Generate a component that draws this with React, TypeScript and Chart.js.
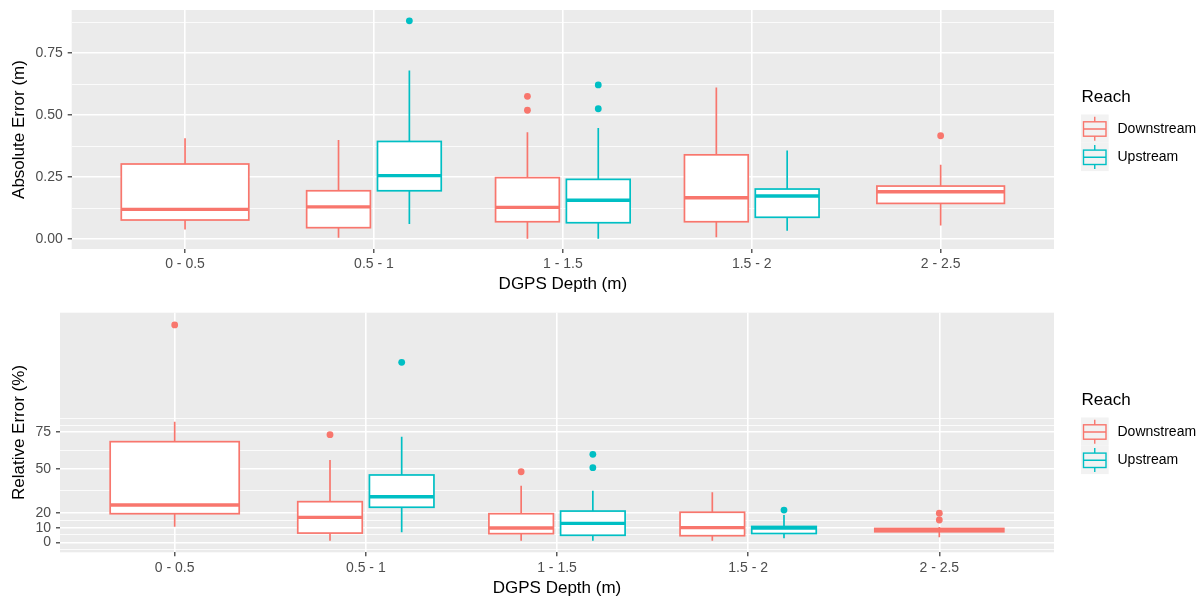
import React, { useEffect, useRef } from "react";
import { Chart, registerables } from "chart.js";

Chart.register(...registerables);

// ---------- data ----------
const CATEGORIES = ["0 - 0.5", "0.5 - 1", "1 - 1.5", "1.5 - 2", "2 - 2.5"];
const REACHES = ["Downstream", "Upstream"];
const REACH_COLORS = ["#F8766D", "#00BFC4"];

// box stats per category: [lower whisker, Q1, median, Q3, upper whisker]; null = no box
const ABS_DOWN = [
  [0.039, 0.077, 0.12, 0.303, 0.407],
  [0.005, 0.046, 0.13, 0.195, 0.4],
  [0.001, 0.07, 0.128, 0.248, 0.431],
  [0.007, 0.07, 0.167, 0.34, 0.612],
  [0.055, 0.144, 0.191, 0.214, 0.3],
];
const ABS_UP = [
  null,
  [0.061, 0.195, 0.256, 0.394, 0.68],
  [0.001, 0.066, 0.157, 0.241, 0.448],
  [0.034, 0.088, 0.174, 0.202, 0.357],
  null,
];
const ABS_DOWN_OUTLIERS = [[], [], [0.576, 0.52], [], [0.417]];
const ABS_UP_OUTLIERS = [[], [0.881], [0.622, 0.526], [], []];

const REL_DOWN = [
  [10.6, 19.5, 25.4, 68.6, 82.2],
  [1.1, 6.3, 17.0, 27.7, 56.1],
  [1.1, 5.9, 9.8, 19.5, 38.6],
  [1.1, 4.5, 10.0, 20.5, 34.1],
  [3.4, 7.2, 8.3, 9.45, 10.5],
];
const REL_UP = [
  null,
  [6.8, 23.9, 31.1, 45.9, 72.0],
  [1.1, 4.8, 12.9, 21.3, 35.2],
  [2.7, 6.0, 9.8, 10.8, 18.6],
  null,
];
const REL_DOWN_OUTLIERS = [[148.2], [73.4], [48.1], [], [19.8, 15.2]];
const REL_UP_OUTLIERS = [[], [122.7], [60.0, 50.9], [22.0], []];

// axis ticks
const ABS_MAJOR_TICKS = [0, 0.25, 0.5, 0.75];
const ABS_MINOR_TICKS = [0.125, 0.375, 0.625, 0.875];
const REL_MAJOR_TICKS = [0, 10, 20, 50, 75];
const REL_MINOR_TICKS = [-5, 5, 15, 35, 62.5, 79.5, 84.5];

const FONT = "'Liberation Sans', Arial, Helvetica, sans-serif";

type Stats = number[] | null;

function boxPlugin(down: Stats[], up: Stats[]) {
  return {
    id: "boxes",
    beforeDraw(chart: any) {
      const { ctx, chartArea } = chart;
      ctx.save();
      ctx.fillStyle = "#EBEBEB";
      ctx.fillRect(chartArea.left, chartArea.top, chartArea.right - chartArea.left, chartArea.bottom - chartArea.top);
      ctx.restore();
    },
    beforeDatasetsDraw(chart: any) {
      const { ctx, chartArea } = chart;
      const xs = chart.scales.x;
      const ys = chart.scales.y;
      ctx.save();
      ctx.beginPath();
      ctx.rect(chartArea.left, chartArea.top, chartArea.right - chartArea.left, chartArea.bottom - chartArea.top);
      ctx.clip();
      const groups = [down, up];
      CATEGORIES.forEach((_, i) => {
        const both = !!down[i] && !!up[i];
        groups.forEach((g, r) => {
          const s = g[i];
          if (!s) return;
          const off = both ? (r === 0 ? -0.1875 : 0.1875) : 0;
          const hw = both ? 0.3375 / 2 : 0.675 / 2;
          const cx = xs.getPixelForValue(i + off);
          const xl = xs.getPixelForValue(i + off - hw);
          const xr = xs.getPixelForValue(i + off + hw);
          const [lo, q1, med, q3, hi] = s.map((v) => ys.getPixelForValue(v));
          ctx.strokeStyle = REACH_COLORS[r];
          ctx.lineWidth = 1.7;
          ctx.beginPath();
          ctx.moveTo(cx, hi);
          ctx.lineTo(cx, q3);
          ctx.moveTo(cx, q1);
          ctx.lineTo(cx, lo);
          ctx.stroke();
          ctx.fillStyle = "#FFFFFF";
          ctx.fillRect(xl, q3, xr - xl, q1 - q3);
          ctx.strokeRect(xl, q3, xr - xl, q1 - q3);
          ctx.lineWidth = 3.4;
          ctx.beginPath();
          ctx.moveTo(xl, med);
          ctx.lineTo(xr, med);
          ctx.stroke();
        });
      });
      ctx.restore();
    },
    afterDraw(chart: any) {
      const { ctx, chartArea } = chart;
      const x0 = chartArea.right + 27;
      const c = (chartArea.top + chartArea.bottom) / 2;
      ctx.save();
      ctx.fillStyle = "#000000";
      ctx.font = `17px ${FONT}`;
      ctx.textBaseline = "middle";
      ctx.textAlign = "left";
      ctx.fillText("Reach", x0 + 0.5, c - 32);
      REACHES.forEach((name, r) => {
        const top = c - 15 + r * 28.3;
        ctx.fillStyle = "#F2F2F2";
        ctx.fillRect(x0, top, 27.7, 28.3);
        const bx = x0 + 2.5;
        const bw = 22.5;
        const cx = bx + bw / 2;
        ctx.strokeStyle = REACH_COLORS[r];
        ctx.lineWidth = 1.4;
        ctx.beginPath();
        ctx.moveTo(cx, top + 2.3);
        ctx.lineTo(cx, top + 7.3);
        ctx.moveTo(cx, top + 21.7);
        ctx.lineTo(cx, top + 26.3);
        ctx.moveTo(bx, top + 14.5);
        ctx.lineTo(bx + bw, top + 14.5);
        ctx.stroke();
        ctx.strokeRect(bx, top + 7.3, bw, 14.4);
        ctx.fillStyle = "#000000";
        ctx.font = `14px ${FONT}`;
        ctx.fillText(name, x0 + 36.5, top + 14.7);
      });
      ctx.restore();
    },
  };
}

function outlierData(outs: number[][], down: Stats[], up: Stats[], r: number) {
  const pts: { x: number; y: number }[] = [];
  outs.forEach((vals, i) => {
    const both = !!down[i] && !!up[i];
    const off = both ? (r === 0 ? -0.1875 : 0.1875) : 0;
    vals.forEach((v) => pts.push({ x: i + off, y: v }));
  });
  return pts;
}

interface PanelProps {
  height: number;
  down: Stats[];
  up: Stats[];
  downOut: number[][];
  upOut: number[][];
  major: number[];
  minor: number[];
  yMin: number;
  yMax: number;
  yTitle: string;
  yFmt: (v: number) => string;
  padTop: number;
  yWidth: number;
  xHeight: number;
  xTitlePadBottom: number;
}

function Panel(p: PanelProps) {
  const ref = useRef<HTMLCanvasElement | null>(null);
  useEffect(() => {
    if (!ref.current) return;
    const isMajor = (v: number) => p.major.some((m) => Math.abs(m - v) < 1e-9);
    const chart = new Chart(ref.current, {
      type: "scatter",
      data: {
        datasets: REACHES.map((name, r) => ({
          label: name,
          data: outlierData(r === 0 ? p.downOut : p.upOut, p.down, p.up, r),
          backgroundColor: REACH_COLORS[r],
          borderWidth: 0,
          pointRadius: 3.4,
        })),
      },
      options: {
        responsive: false,
        animation: false,
        events: [],
        layout: { autoPadding: false, padding: { left: 0, right: 148, top: p.padTop, bottom: 0 } },
        plugins: { legend: { display: false }, tooltip: { enabled: false } },
        scales: {
          x: {
            type: "linear",
            min: -0.6,
            max: 4.6,
            afterBuildTicks: (scale: any) => {
              scale.ticks = CATEGORIES.map((_, i) => ({ value: i }));
            },
            afterFit: (scale: any) => {
              scale.height = p.xHeight;
              scale.paddingLeft = 0;
              scale.paddingRight = 0;
            },
            border: { display: false },
            grid: {
              color: "#FFFFFF",
              lineWidth: 1.6,
              tickColor: "#333333",
              tickWidth: 1.2,
              tickLength: 4,
            },
            ticks: {
              autoSkip: false,
              maxRotation: 0,
              padding: 3,
              color: "#4D4D4D",
              font: { family: FONT, size: 14 },
              callback: (v: any) => CATEGORIES[Math.round(Number(v))] ?? "",
            },
            title: {
              display: true,
              text: "DGPS Depth (m)",
              color: "#000000",
              font: { family: FONT, size: 17 },
              padding: { top: 0, bottom: p.xTitlePadBottom },
            },
          },
          y: {
            type: "linear",
            min: p.yMin,
            max: p.yMax,
            afterBuildTicks: (scale: any) => {
              scale.ticks = [...p.major, ...p.minor].sort((a, b) => a - b).map((v) => ({ value: v }));
            },
            afterFit: (scale: any) => {
              scale.width = p.yWidth;
              scale.paddingTop = 0;
              scale.paddingBottom = 0;
            },
            border: { display: false },
            grid: {
              color: "#FFFFFF",
              lineWidth: (ctx: any) => (isMajor(ctx.tick.value) ? 1.6 : 0.8),
              tickColor: (ctx: any) => (isMajor(ctx.tick.value) ? "#333333" : "rgba(0,0,0,0)"),
              tickWidth: 1.2,
              tickLength: 4,
            },
            ticks: {
              autoSkip: false,
              padding: 5,
              color: "#4D4D4D",
              font: { family: FONT, size: 14 },
              callback: (v: any) => (isMajor(Number(v)) ? p.yFmt(Number(v)) : ""),
            },
            title: {
              display: true,
              text: p.yTitle,
              color: "#000000",
              font: { family: FONT, size: 17 },
              padding: { top: 9, bottom: 0 },
            },
          },
        },
      },
      plugins: [boxPlugin(p.down, p.up)],
    } as any);
    return () => chart.destroy();
  }, []);
  return <canvas ref={ref} width={1202} height={p.height} style={{ display: "block" }} />;
}

export default function App() {
  return (
    <div style={{ position: "absolute", left: 0, top: 0, width: 1202, height: 599, background: "#FFFFFF" }}>
      <Panel
        height={300}
        down={ABS_DOWN}
        up={ABS_UP}
        downOut={ABS_DOWN_OUTLIERS}
        upOut={ABS_UP_OUTLIERS}
        major={ABS_MAJOR_TICKS}
        minor={ABS_MINOR_TICKS}
        yMin={-0.04}
        yMax={0.9245}
        yTitle="Absolute Error (m)"
        yFmt={(v) => v.toFixed(2)}
        padTop={10}
        yWidth={71.7}
        xHeight={51}
        xTitlePadBottom={5.8}
      />
      <Panel
        height={299}
        down={REL_DOWN}
        up={REL_UP}
        downOut={REL_DOWN_OUTLIERS}
        upOut={REL_UP_OUTLIERS}
        major={REL_MAJOR_TICKS}
        minor={REL_MINOR_TICKS}
        yMin={-6.8}
        yMax={156.5}
        yTitle="Relative Error (%)"
        yFmt={(v) => String(v)}
        padTop={12.7}
        yWidth={60}
        xHeight={46.7}
        xTitlePadBottom={0.8}
      />
    </div>
  );
}
